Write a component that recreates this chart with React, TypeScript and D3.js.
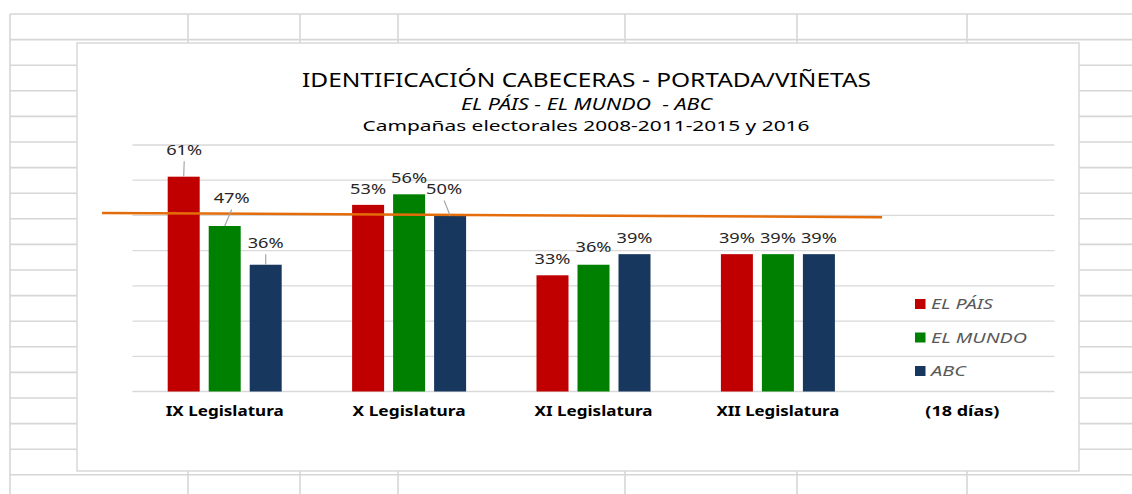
import React from "react";
import * as d3 from "d3";

// ---- data ----
const categories = ["IX Legislatura", "X Legislatura", "XI Legislatura", "XII Legislatura", "(18 días)"];
const seriesNames = ["EL PÁIS", "EL MUNDO", "ABC"];
const elPais: (number | null)[] = [61, 53, 33, 39, null];
const elMundo: (number | null)[] = [47, 56, 36, 39, null];
const abc: (number | null)[] = [36, 50, 39, 39, null];
const yTicks = [0, 10, 20, 30, 40, 50, 60, 70];
// orange reference line (category-index position relative to category centres, value %)
const refLineX = [-0.665, 3.565];
const refLineY = [50.7, 49.5];

const titleText = "IDENTIFICACIÓN CABECERAS - PORTADA/VIÑETAS";
const subtitleText = "EL PÁIS - EL MUNDO  - ABC";
const subtitle2Text = "Campañas electorales 2008-2011-2015 y 2016";

// ---- layout / style ----
const W = 1132;
const H = 494;
const colors = ["#C00000", "#008000", "#17375E"];
const FONT = "'Noto Sans', 'Open Sans', sans-serif";
const gridColor = "#d6d6d6";
const sheetCols = [10, 188, 300, 398, 625, 797, 967];
const sheetRowStart = 14;
const sheetRowStep = 25.6;
const sheetRows = 19;
const box = { x: 77, y: 43, w: 1002, h: 428 };
const plot = { left: 132.5, right: 1054.5, top: 145, bottom: 391.5 };
// label nudges (dx, dy) keyed "series-category", for labels moved by hand (with leader lines)
const labelNudges: Record<string, [number, number]> = {
  "0-0": [0.5, -11],
  "1-0": [7, -12],
  "2-0": [0, -6],
  "2-1": [-6, -10.5],
  "1-2": [0, -2],
};
const catLabelWidths = [118, 113, 118, 123, 74];
const legendWidths = [62, 96, 35];

export default function App() {
  const series = [elPais, elMundo, abc];
  const x = d3.scaleBand<string>().domain(categories).range([plot.left, plot.right]);
  const y = d3.scaleLinear().domain([0, 70]).range([plot.bottom, plot.top]);
  const groupW = 123;
  const xs = d3
    .scaleBand<string>()
    .domain(seriesNames)
    .range([0, groupW])
    .paddingInner(9 / 41)
    .paddingOuter(4.5 / 41);
  const off = (x.bandwidth() - groupW) / 2;
  const catCenter = (i: number) => (x(categories[i]) as number) + x.bandwidth() / 2;
  const idxToX = (v: number) => plot.left + x.bandwidth() * (v + 0.5);

  const refLine = d3
    .line<number>()
    .x((_, i) => idxToX(refLineX[i]))
    .y((v) => y(v));

  const bars: React.ReactNode[] = [];
  const labels: React.ReactNode[] = [];
  series.forEach((vals, si) => {
    vals.forEach((v, ci) => {
      if (v == null) return;
      const bx = (x(categories[ci]) as number) + off + (xs(seriesNames[si]) as number);
      const bw = xs.bandwidth();
      const top = y(v);
      bars.push(
        <rect key={`b${si}-${ci}`} x={bx} y={top} width={bw} height={y(0) - top} fill={colors[si]} />
      );
      const cx = bx + bw / 2;
      const nudge = labelNudges[`${si}-${ci}`] || [0, 0];
      const lx = cx + nudge[0];
      const ly = top - 11 + nudge[1];
      if (nudge[1] < -4) {
        labels.push(
          <line key={`l${si}-${ci}`} x1={lx} y1={ly + 6.5} x2={cx} y2={top} stroke="#a6a6a6" strokeWidth={1.2} />
        );
      }
      labels.push(
        <text
          key={`t${si}-${ci}`}
          x={lx}
          y={ly}
          textAnchor="middle"
          fontFamily={FONT}
          fontSize={14}
          fill="#262626"
          textLength={36}
          lengthAdjust="spacingAndGlyphs"
        >
          {`${v}%`}
        </text>
      );
    });
  });

  return (
    <svg
      width={W}
      height={H}
      style={{ position: "absolute", left: 0, top: 0, background: "#fff" }}
    >
      {/* spreadsheet grid */}
      <g stroke={gridColor} strokeWidth={1.6}>
        {d3.range(sheetRows).map((i) => (
          <line
            key={`r${i}`}
            x1={sheetCols[0]}
            x2={W}
            y1={sheetRowStart + i * sheetRowStep}
            y2={sheetRowStart + i * sheetRowStep}
          />
        ))}
        {sheetCols.map((c, i) => (
          <line key={`c${i}`} x1={c} x2={c} y1={sheetRowStart} y2={H} />
        ))}
      </g>

      {/* chart area */}
      <rect x={box.x} y={box.y} width={box.w} height={box.h} fill="#fff" stroke="#d9d9d9" strokeWidth={1.5} />

      {/* titles */}
      <text
        x={586.5}
        y={87}
        textAnchor="middle"
        fontFamily={FONT}
        fontSize={19}
        fill="#000"
        textLength={569}
        lengthAdjust="spacingAndGlyphs"
      >
        {titleText}
      </text>
      <text
        x={586.5}
        y={109.5}
        textAnchor="middle"
        fontFamily={FONT}
        fontSize={15.5}
        fontStyle="italic"
        fill="#000"
        textLength={251}
        lengthAdjust="spacingAndGlyphs"
        style={{ whiteSpace: "pre" }}
      >
        {subtitleText}
      </text>
      <text
        x={586}
        y={131}
        textAnchor="middle"
        fontFamily={FONT}
        fontSize={15}
        fill="#000"
        textLength={447}
        lengthAdjust="spacingAndGlyphs"
      >
        {subtitle2Text}
      </text>

      {/* gridlines */}
      <g stroke="#d9d9d9" strokeWidth={1.3}>
        {yTicks.map((t) => (
          <line key={`g${t}`} x1={plot.left} x2={plot.right} y1={y(t)} y2={y(t)} />
        ))}
      </g>

      {/* bars */}
      <g>{bars}</g>

      {/* orange line */}
      <path d={refLine(refLineY) || ""} fill="none" stroke="#E46C0A" strokeWidth={2.5} />

      {/* data labels */}
      <g>{labels}</g>

      {/* category labels */}
      {categories.map((c, i) => (
        <text
          key={`cat${i}`}
          x={catCenter(i)}
          y={416}
          textAnchor="middle"
          fontFamily={FONT}
          fontWeight="bold"
          fontSize={13.5}
          fill="#000"
          textLength={catLabelWidths[i]}
          lengthAdjust="spacingAndGlyphs"
        >
          {c}
        </text>
      ))}

      {/* legend */}
      {seriesNames.map((s, i) => (
        <g key={`lg${i}`} transform={`translate(915, ${299 + i * 33.5})`}>
          <rect x={0} y={0} width={10.5} height={10} fill={colors[i]} />
          <text
            x={16}
            y={10}
            fontFamily={FONT}
            fontStyle="italic"
            fontSize={14}
            fill="#595959"
            textLength={legendWidths[i]}
            lengthAdjust="spacingAndGlyphs"
          >
            {s}
          </text>
        </g>
      ))}
    </svg>
  );
}
